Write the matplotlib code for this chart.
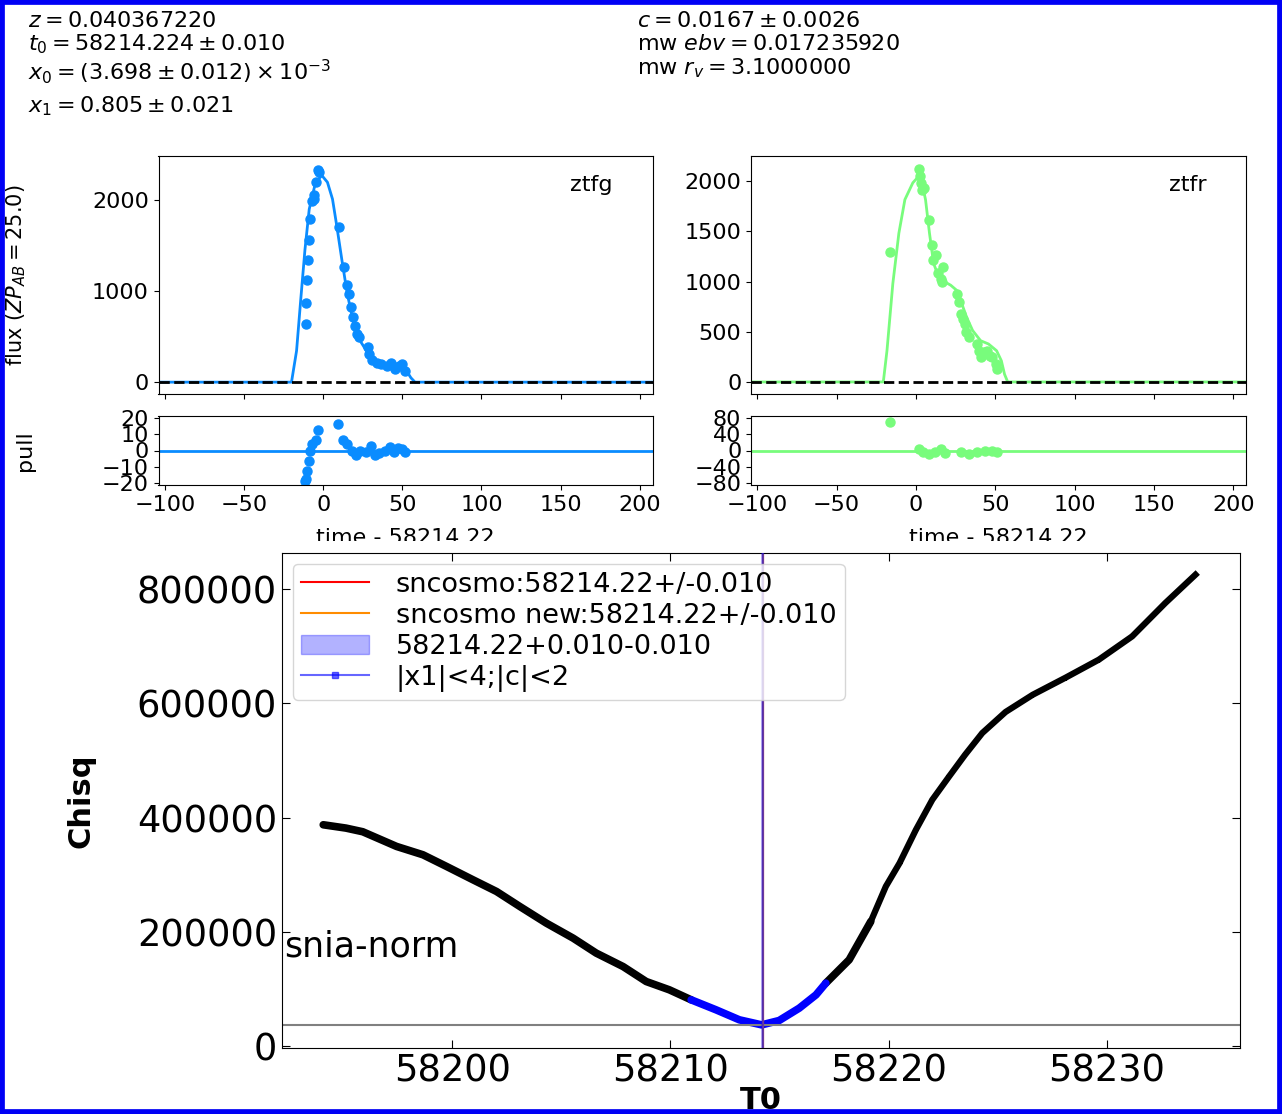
import numpy as np
import matplotlib
matplotlib.use('Agg')
import matplotlib.pyplot as plt
from matplotlib.patches import Rectangle, Patch
from matplotlib.lines import Line2D

## light curve data (time - 58214.22, flux)
g_time = [-11.0, -10.7, -10.2, -9.4, -8.8, -8.0, -7.0, -6.1, -5.5, -4.3, -3.5, -2.7,
          10.2, 13.4, 15.2, 16.6, 17.6, 18.7, 20.1, 21.4, 22.7, 28.1, 29.1, 31.0,
          34.0, 36.6, 40.6, 42.8, 45.2, 48.1, 50.0, 51.9]
g_flux = [640, 869, 1120, 1342, 1564, 1786, 1989, 2007, 2050, 2192, 2322, 2303,
          1704, 1261, 1065, 972, 824, 714, 621, 529, 492, 381, 307, 240,
          214, 196, 177, 214, 140, 177, 196, 122]
g_pull_time = [-11.5, -11.0, -10.2, -8.8, -8.0, -7.0, -4.8, -3.5, 9.4, 12.6, 15.2, 17.9,
               20.6, 23.3, 27.3, 30.0, 32.6, 35.3, 39.3, 42.0, 44.7, 47.3, 50.0, 51.9]
g_pull = [-18.7, -17.7, -12.5, -6.3, 0.0, 4.2, 6.3, 12.5, 16.3, 6.7, 4.2, 0.0,
          -2.5, 0.0, -1.0, 2.5, -3.0, -1.7, 0.0, 2.0, -1.0, 1.7, 1.0, -1.0]
g_model_time = [-104, -20.0, -16.8, -14.2, -11.5, -8.8, -4.8, -0.8, 2.7, 5.9, 8.6, 11.8,
                15.2, 19.3, 23.3, 27.3, 32.6, 38.0, 43.3, 48.7, 52.7, 55.4, 58.0, 208]
g_model_flux = [0, 0, 344, 898, 1453, 1897, 2192, 2266, 2192, 2007, 1712, 1342,
                972, 640, 455, 344, 251, 196, 177, 159, 122, 48, 0, 0]

r_time = [-16.3, 1.8, 2.3, 3.0, 3.8, 4.8, 8.0, 9.8, 10.6, 12.3, 13.8, 15.6, 16.8, 16.1,
          25.6, 26.9, 28.1, 29.4, 30.7, 31.4, 33.2, 38.2, 39.5, 40.7, 42.7, 44.5,
          46.5, 48.2, 50.3, 51.3]
r_flux = [1297, 2117, 2050, 1983, 1916, 1933, 1608, 1364, 1214, 1264, 1080, 1030, 1147, 996,
          879, 796, 679, 629, 578, 495, 445, 378, 311, 244, 294, 311,
          261, 244, 177, 127]
r_pull_time = [-16.3, 1.8, 4.3, 8.0, 11.8, 15.6, 18.1, 28.1, 33.2, 38.2, 43.2, 48.2, 51.3]
r_pull = [70, 4, -4, -8, -4, 4, -6, -4, -8, -4, 0, 0, -4]
r_model_time = [-104, -20.6, -18.3, -14.6, -10.8, -7.0, -2.0, 1.8, 3.5, 6.0, 8.5, 11.1,
                14.3, 18.1, 21.9, 25.6, 28.1, 31.9, 35.7, 40.7, 45.7, 50.8, 53.8, 55.8,
                57.8, 208]
r_model_flux = [0, 0, 311, 980, 1481, 1816, 1983, 2050, 2000, 1816, 1481, 1180,
                1047, 997, 963, 913, 813, 645, 512, 411, 378, 311, 211, 77, 0, 0]

## chisq scan over T0
t0_left = [58194.09, 58195.13, 58195.90, 58197.45, 58198.66, 58199.74, 58200.95, 58202.03,
           58203.10, 58204.31, 58205.54, 58206.60, 58207.83, 58208.89, 58209.95, 58210.95]
chi_left = [387600, 381800, 375400, 349700, 335100, 314700, 291400, 270900,
            244600, 215600, 189300, 163100, 139600, 113400, 98900, 81400]
t0_ok = [58210.95, 58212.09, 58213.16, 58214.18, 58214.98, 58215.90, 58216.67, 58217.12]
chi_ok = [81400, 63900, 46400, 37600, 45200, 66800, 90100, 110600]
t0_right = [58217.12, 58218.19, 58219.18]
chi_right = [110600, 151400, 218400]
t0_steep = [58219.18, 58219.87, 58220.50, 58221.25, 58222.00, 58222.77, 58223.50, 58224.29,
            58225.36, 58226.60, 58228.11, 58229.63, 58231.16, 58232.68, 58234.06]
chi_steep = [218400, 279700, 320600, 378900, 431400, 472100, 510000, 548100,
             585000, 615000, 645000, 676400, 717200, 775600, 825100]

t0_fit = 58214.224
t0_err = 0.010
chi_min = 37600

W, H = 1282, 1114
def box(l, t, r, b):
    return [l / W, 1 - b / H, (r - l) / W, (b - t) / H]

fig = plt.figure(figsize=(W / 100, H / 100), dpi=100)

gcol = '#0a8cff'
rcol = '#78fc7c'
tfs = 16

bands = [('ztfg', gcol, g_time, g_flux, g_pull_time, g_pull, g_model_time, g_model_flux,
          (158.5, 652.5), (-130, 2480), [0, 1000, 2000], (-21.2, 21.2), [-20, -10, 0, 10, 20]),
         ('ztfr', rcol, r_time, r_flux, r_pull_time, r_pull, r_model_time, r_model_flux,
          (751, 1246), (-120, 2250), [0, 500, 1000, 1500, 2000], (-85, 85), [-80, -40, 0, 40, 80])]

for i, (name, col, t, f, pt, p, mt, mf, (l, r), ylim, yt, pylim, pyt) in enumerate(bands):
    ax = fig.add_axes(box(l, 156, r, 394))
    ax.plot(mt, mf, color=col, lw=2)
    ax.plot(t, f, 'o', color=col, ms=6.5)
    ax.axhline(0, color='k', ls='--', lw=2)
    ax.set_xlim(-104, 208)
    ax.set_ylim(*ylim)
    ax.set_yticks(yt)
    ax.set_xticks([-100, -50, 0, 50, 100, 150, 200])
    ax.tick_params(labelsize=tfs, labelbottom=False)
    ax.text(0.92, 0.92, name, ha='right', va='top', fontsize=tfs, transform=ax.transAxes)

    axp = fig.add_axes(box(l, 416, r, 485))
    axp.axhline(0, color=col, lw=2)
    axp.plot(pt, p, 'o', color=col, ms=6.5)
    axp.set_xlim(-104, 208)
    axp.set_ylim(*pylim)
    axp.set_yticks(pyt)
    axp.set_xticks([-100, -50, 0, 50, 100, 150, 200])
    axp.tick_params(labelsize=tfs)
    axp.set_xlabel('time - 58214.22', fontsize=tfs)
    axp.xaxis.set_label_coords(0.5, -0.62)
    if i == 0:
        ax.set_ylabel(r'flux ($ZP_{AB} = 25.0$)', fontsize=15)
        ax.yaxis.set_label_coords(-0.265, 0.5)
        axp.set_ylabel('pull', fontsize=16)
        axp.yaxis.set_label_coords(-0.25, 0.5)

# parameter text
pfs = 16
left_lines = [(r'$z = 0.040367220$', 26.7), (r'$t_0 = 58214.224 \pm 0.010$', 50),
              (r'$x_0 = (3.698 \pm 0.012) \times 10^{-3}$', 80), (r'$x_1 = 0.805 \pm 0.021$', 112.5)]
right_lines = [(r'$c = 0.0167 \pm 0.0026$', 26.7), (r'mw $ebv = 0.017235920$', 50),
               (r'mw $r_v = 3.1000000$', 74)]
for s, yb in left_lines:
    fig.text(28 / W, 1 - yb / H, s, fontsize=pfs, va='baseline')
for s, yb in right_lines:
    fig.text(637 / W, 1 - yb / H, s, fontsize=pfs, va='baseline')

# white sheet of the chisq plot covering the lower part
fig.patches.append(Rectangle((0, 0), 1, 1 - 541 / H, transform=fig.transFigure,
                             facecolor='white', edgecolor='none', zorder=1))

## chisq panel
ax2 = fig.add_axes(box(282, 553, 1240, 1047.5))
ax2.set_zorder(2)
ax2.plot(t0_left, chi_left, color='k', lw=5.5, solid_capstyle='round')
ax2.plot(t0_right, chi_right, color='k', lw=5.5, solid_capstyle='round')
ax2.plot(t0_steep, chi_steep, color='k', lw=4.5, marker='+', ms=5, mew=1.5)
ax2.plot(t0_ok, chi_ok, color='b', lw=5.5, solid_capstyle='round')
ax2.axhline(chi_min, color='grey', lw=1.5)
ax2.axvline(t0_fit, color='red', lw=1.5)
ax2.axvline(t0_fit, color='darkorange', lw=1.5)
ax2.axvspan(t0_fit - t0_err, t0_fit + t0_err, color='b', alpha=0.3, lw=1.5, zorder=3)
ax2.axvline(t0_fit, color='#3a1fd0', lw=1.5, alpha=0.6, zorder=3)
ax2.set_xlim(58192.2, 58236.1)
ax2.set_ylim(-2000, 863000)
ax2.set_xticks([58200, 58210, 58220, 58230])
ax2.set_yticks([0, 200000, 400000, 600000, 800000])
ax2.ticklabel_format(useOffset=False, style='plain')
ax2.tick_params(direction='in', top=True, right=True, length=6, labelsize=26.5)
ax2.set_ylabel('Chisq', fontsize=22, fontweight='bold')
ax2.yaxis.set_label_coords(-0.195, 0.5)
ax2.set_xlabel('T0', fontsize=22, fontweight='bold')
ax2.xaxis.set_label_coords(0.5, -0.078)
ax2.text(0.002, 0.184, 'snia-norm', fontsize=25, va='baseline', transform=ax2.transAxes)

handles = [Line2D([], [], color='red', lw=1.5),
           Line2D([], [], color='darkorange', lw=1.5),
           Patch(facecolor='b', edgecolor='b', alpha=0.3),
           Line2D([], [], color='b', lw=1.5, marker='s', ms=4, alpha=0.6)]
labels = ['sncosmo:58214.22+/-0.010', 'sncosmo new:58214.22+/-0.010',
          '58214.22+0.010-0.010', '|x1|<4;|c|<2']
ax2.legend(handles, labels, loc='upper left', fontsize=19.5, labelspacing=0.18,
           borderaxespad=0.4, borderpad=0.3, handlelength=2.5, handletextpad=1.0)

# blue frame around the picture
fig.patches.append(Rectangle((0, 0), 1, 1, transform=fig.transFigure, fill=False,
                             edgecolor='#0000f5', lw=7, zorder=10))

fig.savefig('out.png', dpi=100)
